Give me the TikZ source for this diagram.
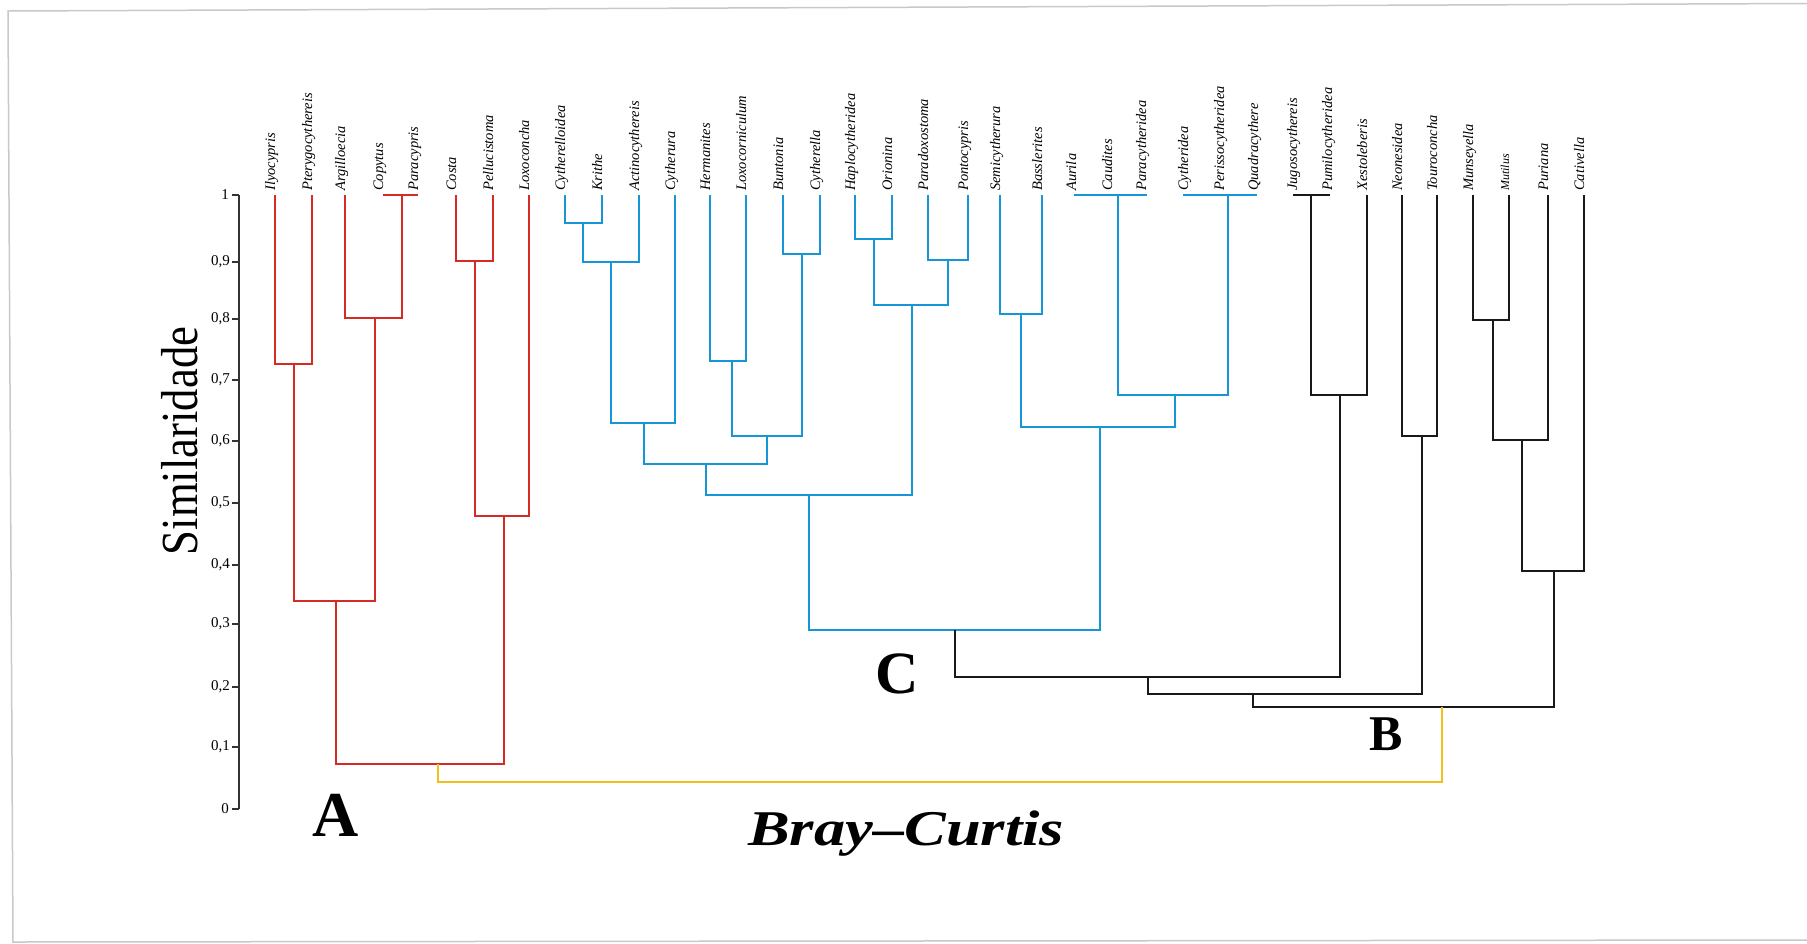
\documentclass[tikz,border=0pt]{standalone}
\usepackage{fontspec}
\setmainfont{Liberation Serif}
\usepackage{tikz}
\definecolor{cladeA}{RGB}{213,43,38}
\definecolor{cladeC}{RGB}{22,150,214}
\definecolor{cladeB}{RGB}{25,25,25}
\definecolor{linkAB}{RGB}{242,192,28}
\definecolor{pageframe}{RGB}{200,200,200}

\begin{document}
\begin{tikzpicture}[x=1pt,y=-1pt,
    branch/.style={line width=2.8pt},
    thinbranch/.style={line width=2.2pt},
    leaf/.style={rotate=90,anchor=base west,inner sep=0pt,font=\fontsize{14.5}{16}\selectfont\itshape},
    ticklabel/.style={anchor=east,inner sep=0pt,font=\fontsize{15}{17}\selectfont},
    group/.style={anchor=base,inner sep=0pt,font=\bfseries}]
    \useasboundingbox (0,0) rectangle (1807,943);
    \draw[pageframe,line width=1.5pt] (1807,3.5) -- (8,11) -- (13,943);
    \draw[pageframe,line width=1.5pt] (13,942) -- (1807,940);

    \draw[black!80,line width=1.6pt] (239,195) -- (239,809);
    \foreach \y in {195,809} \draw[black!80,line width=1.6pt] (232,\y) -- (239,\y);
    \node[ticklabel] (t10) at (229,195) {1};
    \node[ticklabel] (t0) at (229,809) {0};
    \foreach \d/\y in {9/262,8/319,7/380,6/441,5/503,4/565,3/624,2/687,1/747} {
        \draw[black!80,line width=1.6pt] (232,\y) -- (239,\y);
        \node[ticklabel] (t\d) at (230,\y) {0,\d};
    }
    \node[rotate=90,inner sep=0pt,font=\fontsize{52}{56}\selectfont] (ylabel) at (180,441) {\scalebox{0.86}[1]{Similaridade}};

    \foreach \n/\x in {Ilyocypris/275,Pterygocythereis/312,Argilloecia/345,Copytus/383,Paracypris/418,
        Costa/456,Pellucistoma/493,Loxoconcha/529,Cytherelloidea/565,Krithe/602,Actinocythereis/639,
        Cytherura/675,Hermanites/710,Loxocorniculum/746,Buntonia/783,Cytherella/820,Haplocytheridea/855,
        Orionina/892,Paradoxostoma/928,Pontocypris/968,Semicytherura/1000,Basslerites/1042,Aurila/1076,
        Caudites/1112,Paracytheridea/1146,Cytheridea/1188,Perissocytheridea/1224,Quadracythere/1258,
        Jugosocythereis/1297,Pumilocytheridea/1332,Xestoleberis/1367,Neonesidea/1402,Touroconcha/1437,
        Munseyella/1473,Puriana/1548,Cativella/1584}
        \node[leaf] (\n) at (\x,191) {\n};
    \node[leaf,font=\fontsize{12}{14}\selectfont\itshape] (Mutilus) at (1509,191) {Mutilus};

    \draw[branch,cladeA] (383,195) -- (418,195);
    \foreach \xa/\ya/\xb/\yb/\yj in {275/195/312/195/364,345/195/402/195/318,294/364/375/318/601,
        456/195/493/195/261,475/261/529/195/516,336/601/504/516/764}
        \draw[branch,cladeA] (\xa,\ya) |- (\xb,\yj) -- (\xb,\yb);

    \draw[branch,cladeC] (1074,195) -- (1147,195);
    \draw[branch,cladeC] (1183,195) -- (1257,195);
    \foreach \xa/\ya/\xb/\yb/\yj in {565/195/602/195/223,583/223/639/195/262,611/262/675/195/423,
        710/195/746/195/361,783/195/820/195/254,732/361/802/254/436,644/423/767/436/464,
        855/195/892/195/239,928/195/968/195/260,874/239/948/260/305,706/464/912/305/495,
        1000/195/1042/195/314,1118/195/1228/195/395,1021/314/1175/395/427,809/495/1100/427/630}
        \draw[branch,cladeC] (\xa,\ya) |- (\xb,\yj) -- (\xb,\yb);

    \draw[branch,cladeB] (1293,195) -- (1330,195);
    \foreach \xa/\ya/\xb/\yb/\yj in {1311/195/1367/195/395,1402/195/1437/195/436,1473/195/1509/195/320,
        1493/320/1548/195/440,1522/440/1584/195/571}
        \draw[branch,cladeB] (\xa,\ya) |- (\xb,\yj) -- (\xb,\yb);
    \foreach \xa/\ya/\xb/\yb/\yj in {955/630/1340/395/677,1148/677/1422/436/694,1253/694/1554/571/707}
        \draw[thinbranch,cladeB] (\xa,\ya) |- (\xb,\yj) -- (\xb,\yb);

    \draw[thinbranch,linkAB] (438,764) |- (1442,782) -- (1442,707);

    \node[group,font=\fontsize{64}{70}\selectfont\bfseries] (A) at (336,836) {A};
    \node[group,font=\fontsize{60}{66}\selectfont\bfseries] (C) at (897,693) {C};
    \node[group,font=\fontsize{50}{56}\selectfont\bfseries] (B) at (1386,750) {B};
    \node[anchor=base west,inner sep=0pt,font=\fontsize{50}{56}\selectfont\bfseries\itshape] (title) at (748,845) {\scalebox{1.25}[1]{Bray–Curtis}};
\end{tikzpicture}
\end{document}
